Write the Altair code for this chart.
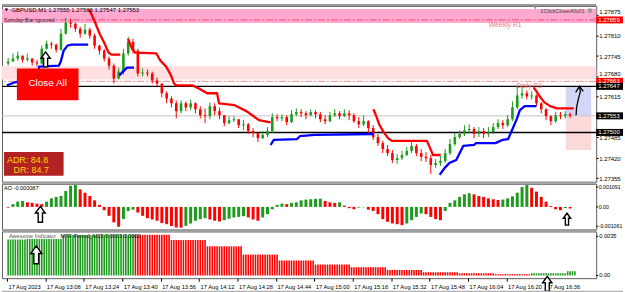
import altair as alt
import pandas as pd

FONT = "Liberation Sans"
GREEN = "#1e9b1e"
RED = "#ff0000"
BLUE = "#0000ff"

W, HM, HA, HB = 598, 177, 46, 47

# ---------------- axis data ----------------
TIME_TICKS = [0, 16, 32, 48, 64, 80, 96, 112, 128, 144, 160, 176, 192, 208, 224]
TIME_LABELS = ["17 Aug 2023", "17 Aug 13:08", "17 Aug 13:24", "17 Aug 13:40", "17 Aug 13:56",
               "17 Aug 14:12", "17 Aug 14:28", "17 Aug 14:44", "17 Aug 15:00", "17 Aug 15:16",
               "17 Aug 15:32", "17 Aug 15:48", "17 Aug 16:04", "17 Aug 16:20", "17 Aug 16:36"]
PRICE_TICKS = [1.27875, 1.27810, 1.27745, 1.27680, 1.27615, 1.27550, 1.27485, 1.27420, 1.27355]
# labels visible in the reference (1.27550 is hidden by the bid tag)
PRICE_LABELS_PLAIN = [1.27810, 1.27745, 1.27615, 1.27485, 1.27420, 1.27355]
PRICE_LABELS_RAISED = [1.27875, 1.27680]
AO_TICKS = [0.001091, 0.0, -0.001061]
AO_TICK_LABELS = ["0.001091", "0.00", "-0.001061"]
MTF_TICKS = [0.0035, 0.0]
MTF_TICK_LABELS = ["0.0035", "0.00"]

# ---------------- candles (2-minute bars from 12:52) ----------------
OPEN0 = 1.27720
CLOSE = [1.27726, 1.27736, 1.27745, 1.27732, 1.27736, 1.27723, 1.27720, 1.27767, 1.27783, 1.27780,
         1.27764, 1.27815, 1.27850, 1.27847, 1.27831, 1.27815, 1.27828, 1.27809, 1.27777, 1.27761,
         1.27736, 1.27713, 1.27672, 1.27694, 1.27752, 1.27789, 1.27761, 1.27688, 1.27691, 1.27688,
         1.27666, 1.27656, 1.27625, 1.27608, 1.27593, 1.27568, 1.27593, 1.27580, 1.27593, 1.27574,
         1.27555, 1.27552, 1.27584, 1.27568, 1.27555, 1.27530, 1.27539, 1.27542, 1.27523, 1.27526,
         1.27504, 1.27498, 1.27482, 1.27492, 1.27504, 1.27549, 1.27545, 1.27549, 1.27533, 1.27558,
         1.27565, 1.27561, 1.27555, 1.27565, 1.27558, 1.27542, 1.27536, 1.27555, 1.27561, 1.27552,
         1.27561, 1.27555, 1.27536, 1.27526, 1.27536, 1.27514, 1.27485, 1.27466, 1.27447, 1.27434,
         1.27412, 1.27418, 1.27428, 1.27441, 1.27457, 1.27434, 1.27422, 1.27418, 1.27396, 1.27403,
         1.27409, 1.27434, 1.27463, 1.27485, 1.27495, 1.27507, 1.27511, 1.27495, 1.27504, 1.27495,
         1.27501, 1.27517, 1.27530, 1.27523, 1.27542, 1.27580, 1.27618, 1.27625, 1.27615, 1.27618,
         1.27593, 1.27574, 1.27552, 1.27536, 1.27555, 1.27552, 1.27558, 1.27553]
HIGH = [1.27738, 1.27752, 1.27758, 1.27745, 1.27752, 1.27736, 1.27732, 1.27777, 1.27793, 1.27789,
        1.27783, 1.27831, 1.27866, 1.27862, 1.27850, 1.27837, 1.27847, 1.27834, 1.27815, 1.27780,
        1.27767, 1.27742, 1.27720, 1.27707, 1.27767, 1.27805, 1.27799, 1.27767, 1.27704, 1.27701,
        1.27694, 1.27675, 1.27656, 1.27631, 1.27615, 1.27602, 1.27602, 1.27599, 1.27605, 1.27596,
        1.27584, 1.27577, 1.27596, 1.27593, 1.27580, 1.27555, 1.27552, 1.27552, 1.27542, 1.27539,
        1.27530, 1.27514, 1.27501, 1.27504, 1.27517, 1.27561, 1.27558, 1.27558, 1.27555, 1.27571,
        1.27577, 1.27574, 1.27568, 1.27574, 1.27571, 1.27565, 1.27555, 1.27565, 1.27574, 1.27568,
        1.27574, 1.27571, 1.27561, 1.27549, 1.27555, 1.27539, 1.27523, 1.27495, 1.27473, 1.27460,
        1.27444, 1.27431, 1.27441, 1.27453, 1.27473, 1.27463, 1.27447, 1.27437, 1.27428, 1.27415,
        1.27425, 1.27447, 1.27479, 1.27498, 1.27507, 1.27523, 1.27526, 1.27517, 1.27517, 1.27514,
        1.27517, 1.27530, 1.27542, 1.27539, 1.27555, 1.27599, 1.27647, 1.27644, 1.27634, 1.27631,
        1.27621, 1.27596, 1.27577, 1.27555, 1.27565, 1.27565, 1.27568, 1.27563]
LOW = [1.27713, 1.27726, 1.27729, 1.27723, 1.27726, 1.27713, 1.27710, 1.27716, 1.27764, 1.27767,
       1.27755, 1.27761, 1.27812, 1.27834, 1.27821, 1.27802, 1.27812, 1.27799, 1.27767, 1.27748,
       1.27726, 1.27701, 1.27656, 1.27669, 1.27685, 1.27745, 1.27752, 1.27679, 1.27679, 1.27679,
       1.27656, 1.27647, 1.27612, 1.27593, 1.27580, 1.27545, 1.27561, 1.27568, 1.27571, 1.27561,
       1.27545, 1.27530, 1.27542, 1.27555, 1.27542, 1.27520, 1.27526, 1.27533, 1.27514, 1.27507,
       1.27495, 1.27485, 1.27469, 1.27479, 1.27485, 1.27498, 1.27536, 1.27536, 1.27523, 1.27530,
       1.27552, 1.27549, 1.27542, 1.27552, 1.27545, 1.27533, 1.27526, 1.27533, 1.27549, 1.27542,
       1.27549, 1.27539, 1.27530, 1.27514, 1.27520, 1.27498, 1.27476, 1.27457, 1.27434, 1.27425,
       1.27403, 1.27400, 1.27412, 1.27425, 1.27434, 1.27425, 1.27409, 1.27406, 1.27368, 1.27387,
       1.27393, 1.27403, 1.27428, 1.27457, 1.27479, 1.27488, 1.27498, 1.27482, 1.27485, 1.27482,
       1.27485, 1.27495, 1.27511, 1.27511, 1.27517, 1.27536, 1.27574, 1.27608, 1.27605, 1.27605,
       1.27584, 1.27561, 1.27539, 1.27523, 1.27530, 1.27542, 1.27545, 1.27547]

# ---------------- Awesome Oscillator (2-minute steps) ----------------
AO = [-0.00004, 0.00015, 0.00029, 0.00033, 0.00025, 0.00022, 0.00018, 0.00015, 0.00029, 0.00047,
      0.00055, 0.00060, 0.00087, 0.00116, 0.00120, 0.00096, 0.00078, 0.00060, 0.00036, 0.00011,
      -0.00018, -0.00049, -0.00085, -0.00109, -0.00067, -0.00022, -0.00015, -0.00031, -0.00049, -0.00062,
      -0.00069, -0.00076, -0.00089, -0.00095, -0.00105, -0.00113, -0.00114, -0.00104, -0.00091, -0.00076,
      -0.00067, -0.00062, -0.00069, -0.00076, -0.00080, -0.00073, -0.00065, -0.00058, -0.00055, -0.00051,
      -0.00058, -0.00069, -0.00076, -0.00058, -0.00040, -0.00013, 0.00011, 0.00018, 0.00015, 0.00022,
      0.00025, 0.00036, 0.00040, 0.00042, 0.00044, 0.00045, 0.00033, 0.00025, 0.00022, 0.00025,
      0.00007, -0.00007, -0.00013, -0.00004, -0.00002, -0.00015, -0.00022, -0.00040, -0.00067, -0.00082,
      -0.00091, -0.00095, -0.00100, -0.00091, -0.00073, -0.00055, -0.00036, -0.00040, -0.00055, -0.00067,
      -0.00073, -0.00022, 0.00022, 0.00036, 0.00055, 0.00069, 0.00075, 0.00069, 0.00060, 0.00055,
      0.00047, 0.00042, 0.00038, 0.00040, 0.00047, 0.00058, 0.00078, 0.00109, 0.00120, 0.00105,
      0.00084, 0.00055, 0.00029, 0.00005, -0.00013, -0.00018, -0.00006, -0.000087]

# ---------------- MTF AO (M15 blocks, start minute after 12:52) ----------------
MTF_START = [-7, 8, 23, 38, 53, 68, 83, 98, 113, 128, 143, 158, 173, 188, 203, 218, 233]
MTF_VALUE = [0.00322, 0.00326, 0.00362, 0.00366, 0.00364, 0.00317, 0.00261, 0.00187, 0.00134,
             0.00098, 0.00074, 0.00050, 0.00029, 0.00020, 0.00012, 0.00020, 0.00038]
MTF_LAST_MINUTE = 236

# ---------------- trailing lines ----------------
RED_A_T = [34.2, 36.6, 38.6, 40.7, 42.3, 43.5, 47.2]
RED_A_P = [1.27894, 1.27853, 1.27815, 1.27783, 1.27755, 1.27748, 1.27748]
RED_B_T = [50.4, 52.1, 53.3, 62.2, 63.9, 66.3, 68.3, 69.6, 70.4, 77.3, 79.7, 83.4, 87.5, 88.3, 94.8, 99.7, 105.0, 109.0, 109.8]
RED_B_P = [1.27799, 1.27767, 1.27755, 1.27752, 1.27729, 1.27710, 1.27682, 1.27656, 1.27650, 1.27650,
           1.27641, 1.27625, 1.27625, 1.27593, 1.27587, 1.27568, 1.27539, 1.27533, 1.27533]
RED_C_T = [152.6, 153.8, 155.0, 156.6, 158.7, 160.3, 174.9, 176.2, 177.4, 180.6]
RED_C_P = [1.27574, 1.27552, 1.27526, 1.27504, 1.27482, 1.27473, 1.27473, 1.27450, 1.27428, 1.27428]
RED_D_T = [219.3, 220.5, 222.1, 223.8, 226.2, 229.0, 236.0]
RED_D_P = [1.27644, 1.27631, 1.27612, 1.27596, 1.27584, 1.27577, 1.27577]
BLUE_A_T = [0.0, 3.3, 6.5, 12.2, 13.4, 21.6, 22.4, 23.6, 25.2, 26.9, 33.8]
BLUE_A_P = [1.27650, 1.27660, 1.27666, 1.27666, 1.27710, 1.27713, 1.27726, 1.27761, 1.27777, 1.27780, 1.27780]
BLUE_B_T = [46.8, 48.8, 50.0, 52.9]
BLUE_B_P = [1.27682, 1.27698, 1.27707, 1.27707]
BLUE_C_T = [109.8, 111.1, 120.8, 122.0, 128.2, 152.6]
BLUE_C_P = [1.27460, 1.27476, 1.27479, 1.27488, 1.27492, 1.27495]
BLUE_D_T = [180.2, 182.3, 184.3, 187.1, 190.0, 194.5, 195.3, 203.4, 206.3, 208.7, 210.3, 212.4, 213.6, 215.6, 220.5]
BLUE_D_P = [1.27365, 1.27387, 1.27403, 1.27412, 1.27457, 1.27460, 1.27466, 1.27466, 1.27476, 1.27479,
            1.27507, 1.27545, 1.27571, 1.27584, 1.27584]
HAND_T = [237.0, 237.2, 238.0, 238.8, 238.4]
HAND_P = [1.27555, 1.27580, 1.27609, 1.27631, 1.27644]
HEAD_T = [236.8, 238.4, 240.0]
HEAD_P = [1.27628, 1.27647, 1.27631]

# ---------------- levels / zones ----------------
BAND_TOP = [1.27894, 1.27711]
BAND_BOTTOM = [1.27849, 1.27669]
BAND_COLORS = ["#ffa9d0", "#ffdfdf"]
DASH_LEVELS = [1.27859, 1.27663]
DASH_COLORS = ["#ee5078", "#f28a8a"]
SOLID_LEVELS = [1.27647, 1.27500, 1.27553]
SOLID_COLORS = ["#000000", "#000000", "#c4c4c4"]
SOLID_WIDTHS = [1.4, 1.4, 1.0]
RBOX_T1 = [232.7, 232.7]
RBOX_T2 = [243.3, 243.3]
RBOX_P1 = [1.27647, 1.27553]
RBOX_P2 = [1.27553, 1.27444]
RBOX_COLORS = ["#d3d6f6", "#fcd9d9"]
TAG_PRICE = [1.27859, 1.27663, 1.27647, 1.27553, 1.27500]
TAG_COLORS = ["#ff0000", "#ff0000", "#000000", "#000000", "#000000"]

# hollow arrows: (t, value, height px)
ARROW_MAIN = [(16.1, 1.27733, 15)]
ARROW_AO = [(13.9, -0.000404, 16), (233.2, -0.000676, 12)]
ARROW_MTF = [(12.2, 0.00185, 18), (225.0, -0.00075, 15)]

# ---------------- scales / helpers ----------------
XS = alt.Scale(domain=[0, 243.3], nice=False, zero=False)
PS = alt.Scale(domain=[1.273426, 1.279037], nice=False, zero=False)
AS = alt.Scale(domain=[-0.00124, 0.00127], nice=False, zero=False)
MS = alt.Scale(domain=[-0.00024, 0.00394], nice=False, zero=False)

PAXIS = alt.Axis(orient="right", values=PRICE_TICKS, labels=False, tickSize=2, tickColor="#000",
                 domain=False, grid=False, title=None)
label_expr = "[" + ",".join("'" + s + "'" for s in TIME_LABELS) + "][round(datum.value/16)]"
XAXIS = alt.Axis(values=TIME_TICKS, labelExpr=label_expr, labelAlign="left", labelFontSize=5.8,
                 labelPadding=2, labelOffset=1, tickSize=3, tickColor="#000", labelColor="#000",
                 domain=False, grid=False, title=None, labelOverlap=False, labelFlush=False,
                 labelBound=False, labelFont=FONT)


def XM(f="t"):
    return alt.X(f"{f}:Q", scale=XS, axis=None)


def XB(f="t"):
    return alt.X(f"{f}:Q", scale=XS, axis=XAXIS)


def YP(f):
    return alt.Y(f"{f}:Q", scale=PS, axis=PAXIS)


COL = alt.Color("col:N", scale=None)
ONE = pd.DataFrame({"k": [0]})
ARROW_PATH = "M0,-1L0.62,-0.15L0.27,-0.15L0.27,1L-0.27,1L-0.27,-0.15L-0.62,-0.15Z"
TAG_PATH = "M-1,-0.26L1,-0.26L1,0.26L-1,0.26Z"


def txt(s, x, y, size, color, align="left", weight="normal"):
    return alt.Chart(ONE).mark_text(text=s, align=align, baseline="middle", fontSize=size,
                                    color=color, font=FONT, fontWeight=weight).encode(
        x=alt.value(x), y=alt.value(y))


def box(x1, x2, y1, y2, color):
    return alt.Chart(ONE).mark_rect(color=color).encode(
        x=alt.value(x1), x2=alt.value(x2), y=alt.value(y1), y2=alt.value(y2))


def hrule(y, x1, x2, color, width):
    return alt.Chart(ONE).mark_rule(color=color, strokeWidth=width).encode(
        x=alt.value(x1), x2=alt.value(x2), y=alt.value(y))


def arrows(items, x_enc, y_field_enc):
    df = pd.DataFrame({"t": [a[0] for a in items], "v": [a[1] for a in items],
                       "s": [a[2] ** 2 for a in items]})
    return alt.Chart(df).mark_point(shape=ARROW_PATH, filled=True, fill="white", stroke="black",
                                    strokeWidth=1.4, opacity=1).encode(
        x=x_enc, y=y_field_enc, size=alt.Size("s:Q", scale=None))


def price_labels(values, dy):
    df = pd.DataFrame({"p": values, "label": [f"{v:.5f}" for v in values]})
    return alt.Chart(df).mark_text(align="left", baseline="middle", fontSize=6, font=FONT,
                                   color="#000", dy=dy).encode(
        x=alt.value(W + 3), y=YP("p"), text="label:N")


# ---------------- main panel ----------------
opens = [OPEN0] + CLOSE[:-1]
candles = pd.DataFrame({"t": [2 * i + 0.5 for i in range(len(CLOSE))], "o": opens,
                        "c": CLOSE, "h": HIGH, "l": LOW})
candles["col"] = [GREEN if c >= o else RED for o, c in zip(opens, CLOSE)]

bands = alt.Chart(pd.DataFrame({"p1": BAND_TOP, "p2": BAND_BOTTOM, "col": BAND_COLORS})).mark_rect().encode(
    y=YP("p1"), y2="p2", x=alt.value(0), x2=alt.value(W), color=COL)
rbox = alt.Chart(pd.DataFrame({"t1": RBOX_T1, "t2": RBOX_T2, "p1": RBOX_P1, "p2": RBOX_P2,
                               "col": RBOX_COLORS})).mark_rect().encode(
    x=XM("t1"), x2="t2", y=YP("p1"), y2="p2", color=COL)
dash = alt.Chart(pd.DataFrame({"p": DASH_LEVELS, "col": DASH_COLORS})).mark_rule(
    strokeDash=[7, 2, 2, 2], strokeWidth=1).encode(y=YP("p"), color=COL)
solid = alt.Chart(pd.DataFrame({"p": SOLID_LEVELS, "col": SOLID_COLORS, "w": SOLID_WIDTHS})).mark_rule().encode(
    y=YP("p"), color=COL, strokeWidth=alt.StrokeWidth("w:Q", scale=None))

wicks = alt.Chart(candles).mark_rule(strokeWidth=1).encode(x=XM(), y=YP("l"), y2="h", color=COL)
bodies = alt.Chart(candles).mark_bar(width=2.6).encode(x=XM(), y=YP("o"), y2="c", color=COL)

rows = []
for name, ts, ps, color in [("ra", RED_A_T, RED_A_P, RED), ("rb", RED_B_T, RED_B_P, RED),
                            ("rc", RED_C_T, RED_C_P, RED), ("rd", RED_D_T, RED_D_P, RED),
                            ("ba", BLUE_A_T, BLUE_A_P, BLUE), ("bb", BLUE_B_T, BLUE_B_P, BLUE),
                            ("bc", BLUE_C_T, BLUE_C_P, BLUE), ("bd", BLUE_D_T, BLUE_D_P, BLUE)]:
    for i, (t, p) in enumerate(zip(ts, ps)):
        rows.append({"seg": name, "i": i, "t": t, "p": p, "col": color})
trail = alt.Chart(pd.DataFrame(rows)).mark_line(strokeWidth=2.3, strokeJoin="round").encode(
    x=XM(), y=YP("p"), detail="seg:N", order="i:Q", color=COL)

hrows = []
for name, ts, ps in [("shaft", HAND_T, HAND_P), ("head", HEAD_T, HEAD_P)]:
    for i, (t, p) in enumerate(zip(ts, ps)):
        hrows.append({"seg": name, "i": i, "t": t, "p": p})
hand = alt.Chart(pd.DataFrame(hrows)).mark_line(strokeWidth=1.3, color="#000").encode(
    x=XM(), y=YP("p"), detail="seg:N", order="i:Q")

tags = pd.DataFrame({"p": TAG_PRICE, "col": TAG_COLORS, "label": [f"{p:.5f}" for p in TAG_PRICE]})
tag_bg = alt.Chart(tags).mark_point(shape=TAG_PATH, filled=True, size=729, opacity=1, strokeWidth=0).encode(
    x=alt.value(611.5), y=YP("p"), color=COL)
tag_tx = alt.Chart(tags).mark_text(align="left", baseline="middle", fontSize=6, color="#ffffff",
                                   font=FONT).encode(x=alt.value(600), y=YP("p"), text="label:N")

main = alt.layer(
    hrule(-1, 0, W, "#9a9a9a", 2),
    bands, rbox, dash, solid,
    txt("Weekly R1", 490, 19.3, 6.8, "#f07878"),
    txt("Daily R1", 518, 80.5, 6.8, "#f07878"),
    wicks, bodies, trail, hand,
    box(15, 77, 63, 95, "#ff0000"),
    txt("Close All", 46, 78, 10, "#ffffff", align="center"),
    box(2, 62, 147, 171, "#b22222"),
    txt("ADR: 84.8", 5, 154.7, 9, "#ffd700"),
    txt("DR: 84.7", 11.7, 165.3, 9, "#ffd700"),
    arrows(ARROW_MAIN, XM(), YP("v")),
    alt.Chart(ONE).mark_point(shape="triangle-down", filled=True, size=12, color="#000", opacity=1).encode(
        x=alt.value(4.5), y=alt.value(4)),
    txt("GBPUSD,M1  1.27555 1.27563 1.27547 1.27553", 9.5, 4, 6, "#000"),
    txt("Sunday Bar ignored", 2, 13.7, 5.8, "#333"),
    alt.Chart(ONE).mark_point(shape="triangle-down", filled=True, size=14, color="#999", opacity=1).encode(
        x=alt.value(536.7), y=alt.value(2)),
    txt("1ClickCloseAllv01", 586.5, 4.7, 5.6, "#444", align="right"),
    alt.Chart(ONE).mark_point(shape="circle", filled=True, size=22, color="#9a9a9a", opacity=1).encode(
        x=alt.value(591.7), y=alt.value(4.7)),
    price_labels(PRICE_LABELS_PLAIN, 1),
    price_labels(PRICE_LABELS_RAISED, -2.5),
    tag_bg, tag_tx,
).properties(width=W, height=HM)

# ---------------- AO panel ----------------
ao_df = pd.DataFrame({"t": [2 * i + 0.5 for i in range(len(AO))], "v": AO})
ao_df["col"] = [RED if i == 0 or v < AO[i - 1] else GREEN for i, v in enumerate(AO)]
YA = alt.Y("v:Q", scale=AS, axis=None)
ao_bars = alt.Chart(ao_df).mark_bar(width=3).encode(x=XM(), y=YA, y2=alt.datum(0), color=COL)
ao_lab_df = pd.DataFrame({"v": AO_TICKS, "label": AO_TICK_LABELS})
ao_labels = alt.Chart(ao_lab_df).mark_text(align="left", baseline="middle", fontSize=5.3, font=FONT,
                                           color="#000").encode(
    x=alt.value(W + 2.5), y=YA, text="label:N")
ao_ticks = alt.Chart(ao_lab_df).mark_rule(color="#000").encode(x=alt.value(W), x2=alt.value(W + 2), y=YA)

ao = alt.layer(
    hrule(-1, 0, W, "#9a9a9a", 2),
    ao_bars,
    txt("AO -0.000087", 2, 4.5, 5.6, "#000"),
    arrows(ARROW_AO, XM(), YA),
    ao_labels, ao_ticks,
).properties(width=W, height=HA)

# ---------------- MTF AO panel ----------------
mrows = []
for m in range(0, MTF_LAST_MINUTE + 1):
    k = max(j for j, s in enumerate(MTF_START) if s <= m)
    up = k == 0 or MTF_VALUE[k] >= MTF_VALUE[k - 1]
    mrows.append({"t": m + 0.5, "v": MTF_VALUE[k], "col": GREEN if up else RED})
YM = alt.Y("v:Q", scale=MS, axis=None)
mtf_bars = alt.Chart(pd.DataFrame(mrows)).mark_bar(width=1.6).encode(x=XB(), y=YM, y2=alt.datum(0), color=COL)
m_lab_df = pd.DataFrame({"v": MTF_TICKS, "label": MTF_TICK_LABELS})
m_labels = alt.Chart(m_lab_df).mark_text(align="left", baseline="middle", fontSize=5.7, font=FONT,
                                         color="#000").encode(
    x=alt.value(W + 3), y=YM, text="label:N")
m_ticks = alt.Chart(m_lab_df).mark_rule(color="#000").encode(x=alt.value(W), x2=alt.value(W + 2), y=YM)

mtf = alt.layer(
    hrule(-1, 0, W, "#9a9a9a", 2),
    mtf_bars,
    txt("Awesome Indicator", 7, 4.5, 5.6, "#555"),
    txt("MTF Period_M15 0.0033 0.0000", 59, 4.5, 5.6, "#111"),
    arrows(ARROW_MTF, XB(), YM),
    m_labels, m_ticks,
    hrule(60.5, 0, 625, "#b0b0b0", 1.5),
).properties(width=W, height=HB)

chart = alt.vconcat(main, ao, mtf, spacing=2, bounds="flush").properties(
    padding={"left": 0, "right": 0, "top": 2, "bottom": 0}, background="white"
).configure(font=FONT).configure_view(stroke="#5e5e5e", strokeWidth=1)

chart.save("out.html", embed_options={"renderer": "svg", "actions": False})
